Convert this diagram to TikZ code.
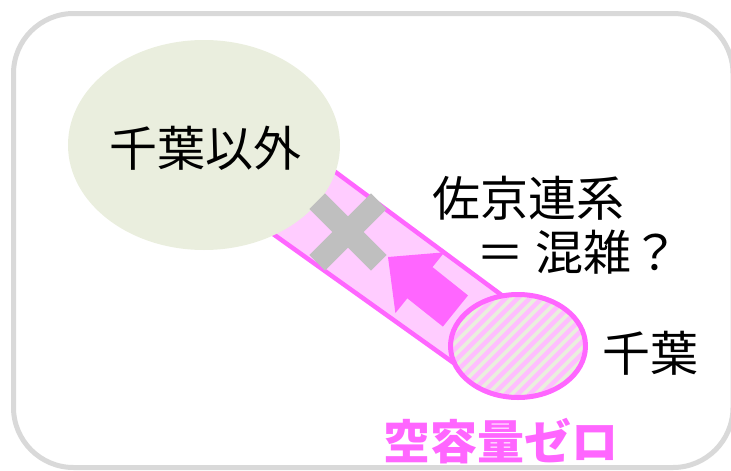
\documentclass[tikz,border=0pt]{standalone}
\usepackage{fontspec}
\usetikzlibrary{shapes.geometric}
\newfontfamily\jp{Noto Sans CJK JP}
\definecolor{frame}{RGB}{217,217,217}
\definecolor{olive}{RGB}{234,238,222}
\definecolor{pinkline}{RGB}{255,102,255}
\definecolor{pinkfill}{RGB}{255,204,255}
\definecolor{stripe}{RGB}{255,190,255}
\definecolor{crossgray}{RGB}{191,191,191}
\tikzset{
  lbl/.style={inner sep=0pt, font=\jp\fontsize{48}{52}\selectfont},
  boldlbl/.style={inner sep=0pt, text=pinkline, font=\jp\bfseries\fontsize{47}{52}\selectfont},
}
\begin{document}
\begin{tikzpicture}[x=1pt,y=-1pt]
\useasboundingbox (0,0) rectangle (731,471);
% frame
\draw[frame, line width=5pt, rounded corners=60pt] (13.5,13.5) rectangle (733,467.5);
% tube
\draw[pinkline, fill=pinkfill, line width=4.5pt, line join=round]
  (288.5,137.2) -- (518.5,307.6) -- (481.5,382.8) -- (231.5,204.3) -- cycle;
% big ellipse
\node[ellipse, fill=olive, minimum width=272pt, minimum height=210pt, inner sep=0pt] (big) at (204,145) {};
\node[lbl] (t1) at (205,148) {千葉以外};
% gray cross
\begin{scope}[shift={(348,232)}]
  \fill[crossgray, rotate=45] (-43.5,-11) rectangle (43.5,11);
  \fill[crossgray, rotate=-45] (-43.5,-11) rectangle (43.5,11);
\end{scope}
% arrow
\fill[pinkline] (388,257) -- (444.4,252.3) -- (432.5,267.1) -- (468,295.4)
  -- (442.9,326.6) -- (407.3,298.3) -- (395.4,313.1) -- cycle;
% small ellipse
\begin{scope}
  \clip (518,346) ellipse [x radius=67.5, y radius=51.5];
  \fill[olive] (440,280) rectangle (600,410);
  \foreach \k in {0,...,24} {
    \draw[stripe, line width=4.5pt] (300+\k*12,420) -- (440+\k*12,280);
  }
\end{scope}
\draw[pinkline, line width=5pt] (518,346) ellipse [x radius=67.5, y radius=51.5];
\coordinate (small) at (518,346);
% labels
\node[lbl] (t2) at (528,198) {佐京連系};
\node[lbl] (t3) at (578,252.5) {＝ 混雑？};
\node[lbl] (t4) at (650,353) {千葉};
\node[boldlbl] (t5) at (501,441) {空容量ゼロ};
\end{tikzpicture}
\end{document}
